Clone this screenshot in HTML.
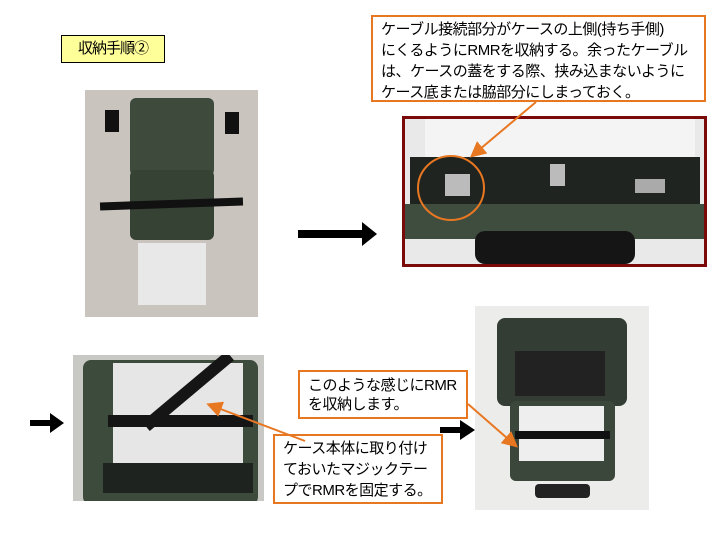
<!DOCTYPE html>
<html><head><meta charset="utf-8"><style>
body{margin:0;width:720px;height:540px;background:#fff;position:relative;overflow:hidden;font-family:"Liberation Sans","Noto Sans CJK JP",sans-serif}
div{position:absolute;box-sizing:border-box}
.co{border:2px solid #e87722;background:#fff;color:#000;font-size:15px;letter-spacing:-0.5px;padding:2px 0 0 8px;white-space:nowrap}
</style></head><body>
<div style="left:61px;top:35px;width:104px;height:28px;background:#ffff99;border:1px solid #000;font-size:15px;line-height:26px;text-align:center;letter-spacing:-1px">収納手順②</div>

<div style="left:85px;top:90px;width:173px;height:227px;background:#c9c4bd">
 <div style="left:45px;top:8px;width:84px;height:78px;background:#3d4a3c;border-radius:6px"></div>
 <div style="left:20px;top:20px;width:14px;height:22px;background:#111"></div>
 <div style="left:140px;top:22px;width:14px;height:22px;background:#111"></div>
 <div style="left:45px;top:80px;width:84px;height:70px;background:#364234;border-radius:6px"></div>
 <div style="left:15px;top:110px;width:143px;height:8px;background:#111;transform:rotate(-2deg)"></div>
 <div style="left:53px;top:153px;width:68px;height:62px;background:#e8e8e8"></div>
</div>

<div class="co" style="left:371px;top:15px;width:335px;height:87px;line-height:21px">ケーブル接続部分がケースの上側(持ち手側)<br>にくるようにRMRを収納する。余ったケーブル<br>は、ケースの蓋をする際、挟み込まないように<br>ケース底または脇部分にしまっておく。</div>

<div style="left:402px;top:116px;width:305px;height:151px;background:#7a0a0a;padding:3px">
 <div style="left:3px;top:3px;width:299px;height:145px;background:#e9e9e9;overflow:hidden">
  <div style="left:20px;top:0;width:270px;height:40px;background:#f4f4f4"></div>
  <div style="left:5px;top:38px;width:290px;height:55px;background:#1f2420"></div>
  <div style="left:0;top:85px;width:299px;height:35px;background:#3f4d3f"></div>
  <div style="left:70px;top:112px;width:160px;height:33px;background:#151515;border-radius:10px"></div>
  <div style="left:40px;top:55px;width:25px;height:22px;background:#bbb"></div>
  <div style="left:145px;top:45px;width:15px;height:22px;background:#bbb"></div>
  <div style="left:230px;top:60px;width:30px;height:14px;background:#aaa"></div>
 </div>
</div>
<svg width="720" height="540" style="position:absolute;left:0;top:0">
 <defs><marker id="a" markerWidth="8" markerHeight="8" refX="6" refY="4" orient="auto"><path d="M0,0L8,4L0,8z" fill="#e87722"/></marker></defs>
 <ellipse cx="451" cy="188" rx="33" ry="32" fill="none" stroke="#e87722" stroke-width="2"/>
 <line x1="536" y1="102" x2="473" y2="155" stroke="#e87722" stroke-width="2" marker-end="url(#a)"/>
 <path d="M298,230h64v-8l15,12l-15,12v-8h-64z" fill="#000"/>
 <path d="M30,420h20v-7l14,10l-14,10v-7h-20z" fill="#000"/>
 <path d="M440,427h20v-7l15,10l-15,10v-7h-20z" fill="#000"/>
</svg>

<div style="left:73px;top:355px;width:191px;height:146px;background:#c8c8c4;overflow:hidden">
 <div style="left:10px;top:5px;width:175px;height:145px;background:#3d4b3c;border-radius:8px"></div>
 <div style="left:40px;top:8px;width:130px;height:100px;background:#e6e6e6"></div>
 <div style="left:35px;top:60px;width:145px;height:12px;background:#151515"></div>
 <div style="left:60px;top:30px;width:110px;height:12px;background:#151515;transform:rotate(-40deg)"></div>
 <div style="left:30px;top:108px;width:150px;height:30px;background:#1e231f"></div>
</div>

<div style="left:475px;top:306px;width:174px;height:204px;background:#ececea;overflow:hidden">
 <div style="left:22px;top:12px;width:130px;height:88px;background:#333d33;border-radius:8px"></div>
 <div style="left:40px;top:45px;width:90px;height:45px;background:#222"></div>
 <div style="left:35px;top:95px;width:105px;height:80px;background:#3a473a;border-radius:6px"></div>
 <div style="left:44px;top:100px;width:85px;height:55px;background:#eee"></div>
 <div style="left:40px;top:125px;width:95px;height:8px;background:#111"></div>
 <div style="left:60px;top:178px;width:55px;height:14px;background:#222;border-radius:4px"></div>
</div>

<div class="co" style="left:298px;top:370px;width:170px;height:49px;line-height:19px;padding-top:4px;background:#fff">このような感じにRMR<br>を収納します。</div>
<div class="co" style="left:273px;top:434px;width:170px;height:70px;line-height:21px;padding-top:2px">ケース本体に取り付け<br>ておいたマジックテー<br>プでRMRを固定する。</div>
<svg width="720" height="540" style="position:absolute;left:0;top:0">
 <defs><marker id="b" markerWidth="8" markerHeight="8" refX="6" refY="4" orient="auto"><path d="M0,0L8,4L0,8z" fill="#e87722"/></marker></defs>
 <line x1="305" y1="441" x2="210" y2="405" stroke="#e87722" stroke-width="2" marker-end="url(#b)"/>
 <line x1="468" y1="404" x2="515" y2="445" stroke="#e87722" stroke-width="2" marker-end="url(#b)"/>
</svg>
</body></html>
